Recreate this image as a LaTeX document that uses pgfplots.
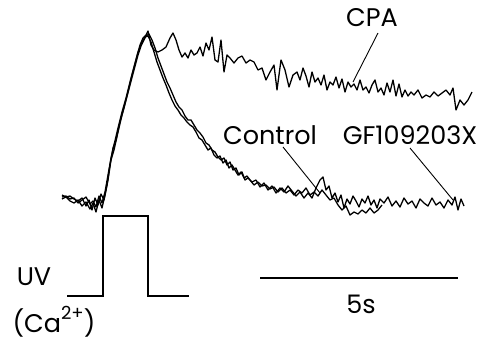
\documentclass[border=0pt]{standalone}
\usepackage{fontspec}
\setmainfont{Poppins}
\usepackage{pgfplots}
\pgfplotsset{compat=1.18}
\tikzset{lbl/.style={font=\fontsize{25.5}{28}\selectfont, inner sep=0pt, anchor=center},
  trace/.style={black, no markers, line width=1.3pt, line join=round}}
\begin{document}
\begin{tikzpicture}
\begin{axis}[
  scale only axis, width=485pt, height=349pt,
  xmin=0, xmax=485, ymin=0, ymax=349, y dir=reverse,
  axis lines=none, clip=false,
]
% CPA
\addplot[trace] coordinates {
(62,195)(66,197)(70,196)(74,199)(78,201)(82,198)(86,206)(89,200)(92,210)(95,198)(98,205)(101,194)(104,200)(107,185)(110,165)(113,148)(116,140)(120,122)(124,108)(128,92)(132,75)(136,60)(140,45)(143,38)(146,35)(148,31)(151,45)(154,50)(158,52)(162,50)(166,47)(170,38)(173,33)(176,40)(179,50)(182,57)(185,53)(188,58)(191,50)(194,55)(197,53)(200,47)(203,56)(206,43)(209,50)(212,37)(215,60)(218,62)(221,40)(224,72)(227,55)(230,58)(234,63)(238,58)(242,56)(246,63)(250,60)(254,62)(258,70)(262,68)(266,80)(270,72)(274,65)(277,90)(281,60)(285,70)(289,87)(293,75)(297,72)(300,80)(303,68)(306,76)(309,87)(312,72)(315,82)(318,78)(321,85)(324,75)(327,90)(330,82)(333,85)(336,77)(339,88)(342,79)(345,92)(348,82)(351,87)(354,84)(357,90)(360,80)(363,90)(366,87)(369,93)(372,85)(375,80)(378,92)(381,88)(384,95)(387,83)(390,92)(393,80)(396,96)(399,84)(402,97)(405,90)(408,96)(411,92)(414,95)(418,90)(422,98)(426,95)(430,97)(434,92)(438,96)(442,93)(446,90)(450,95)(453,88)(456,110)(460,100)(464,105)(468,100)(472,92)
};
% Control
\addplot[trace] coordinates {
(62,197)(66,196)(70,199)(74,198)(78,203)(82,200)(86,197)(90,204)(93,201)(96,207)(99,196)(102,203)(105,192)(108,175)(111,158)(114,145)(118,128)(122,112)(126,98)(130,82)(134,67)(138,52)(142,42)(145,37)(148,36)(151,42)(154,52)(157,62)(160,70)(163,78)(166,85)(169,93)(172,100)(175,106)(178,110)(181,115)(184,118)(187,122)(190,125)(193,127)(196,132)(199,138)(202,140)(205,145)(208,150)(211,148)(214,155)(217,158)(220,156)(223,163)(226,160)(229,168)(232,165)(235,170)(238,175)(241,172)(244,178)(247,176)(250,180)(254,185)(258,182)(262,186)(266,185)(270,189)(274,187)(278,192)(282,188)(286,193)(290,190)(294,195)(298,190)(302,193)(306,188)(310,195)(314,192)(318,196)(322,190)(326,195)(330,200)(334,198)(338,205)(342,210)(346,206)(350,215)(354,212)(358,214)(362,210)(366,213)(370,208)(374,213)(378,210)(382,205)
};
% GF109203X
\addplot[trace] coordinates {
(62,199)(66,197)(70,201)(74,203)(78,200)(82,206)(86,202)(90,209)(93,203)(96,212)(99,200)(102,208)(105,195)(108,180)(111,160)(114,150)(118,132)(122,115)(126,100)(130,85)(134,70)(138,55)(141,46)(144,40)(146,36)(149,34)(152,40)(155,48)(158,58)(161,66)(164,74)(167,82)(170,88)(173,95)(176,102)(179,107)(182,110)(185,116)(188,120)(191,120)(194,125)(197,130)(200,133)(203,137)(206,143)(209,145)(212,150)(215,152)(218,157)(221,160)(224,158)(227,165)(230,162)(233,170)(236,168)(239,175)(242,172)(245,180)(248,178)(252,182)(256,180)(260,187)(264,183)(268,190)(272,186)(276,193)(280,188)(284,192)(288,186)(292,191)(296,196)(300,192)(304,198)(308,193)(312,198)(316,188)(320,180)(323,177)(326,190)(329,186)(332,198)(335,193)(338,202)(341,195)(344,208)(347,199)(350,204)(353,196)(356,201)(359,207)(362,199)(365,203)(368,196)(371,205)(374,200)(377,208)(380,199)(384,203)(388,197)(392,206)(396,201)(400,207)(404,198)(408,204)(412,201)(416,208)(420,199)(424,203)(428,206)(432,198)(436,205)(440,202)(444,208)(448,200)(452,205)(455,197)(458,210)(461,199)(464,206)
};
% UV pulse
\addplot[black, no markers, line width=1.3pt, line join=miter] coordinates {(67,296)(103,296)(103,216)(148,216)(148,296)(189,296)};
% scale bar
\addplot[black, no markers, line width=1.1pt] coordinates {(260,278)(458,278)};
% pointer lines
\addplot[black, no markers, line width=0.9pt] coordinates {(378,33)(353,82)};
\addplot[black, no markers, line width=0.9pt] coordinates {(283,147)(320,193)};
\addplot[black, no markers, line width=0.9pt] coordinates {(410,148)(453,200)};
% labels
\node[lbl] at (axis cs:372,18) {CPA};
\node[lbl] at (axis cs:270,135) {Control};
\node[lbl] at (axis cs:410,135) {GF109203X};
\node[lbl] at (axis cs:34,277) {UV};
\node[lbl] at (axis cs:54,322) {(Ca\raisebox{0.5em}{\fontsize{18}{20}\selectfont 2+})};
\node[lbl] at (axis cs:361,304) {5s};
\end{axis}
\pgfresetboundingbox
\path (current axis.south west) rectangle (current axis.north east);
\end{tikzpicture}
\end{document}
